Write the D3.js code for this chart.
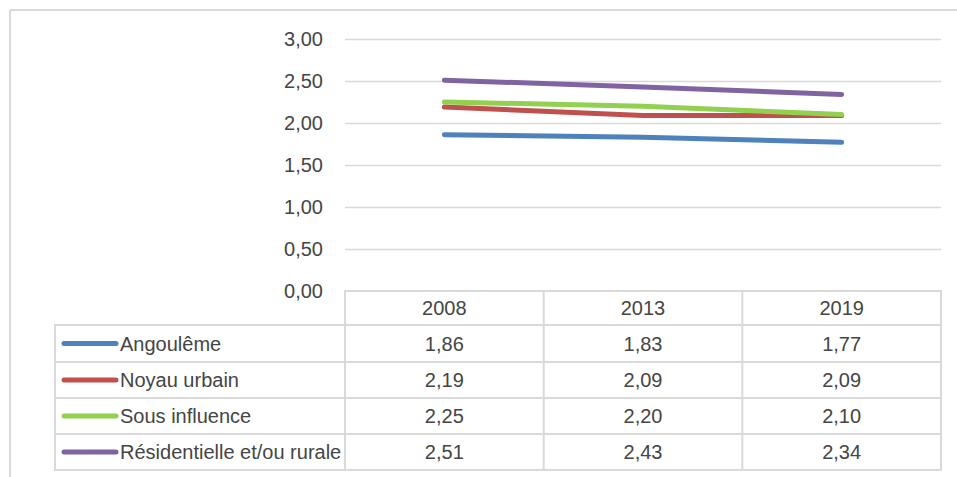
<!DOCTYPE html>
<html>
<head>
<meta charset="utf-8">
<script src="https://cdn.jsdelivr.net/npm/d3@7"></script>
<style>
  html, body { margin: 0; padding: 0; background: #fff; }
  svg { display: block; }
  text { font-family: "Liberation Sans", Arial, sans-serif; fill: #454545; }
</style>
</head>
<body>
<svg id="chart" width="957" height="477"></svg>
<script>
// Household size by area type, 2008–2019
const years = ["2008", "2013", "2019"];
const seriesNames = ["Angoulême", "Noyau urbain", "Sous influence", "Résidentielle et/ou rurale"];
const angouleme = [1.86, 1.83, 1.77];
const noyauUrbain = [2.19, 2.09, 2.09];
const sousInfluence = [2.25, 2.20, 2.10];
const residentielle = [2.51, 2.43, 2.34];
const yTicks = [0, 0.5, 1, 1.5, 2, 2.5, 3];
const colors = ["#4F81BD", "#C0504D", "#92D050", "#8064A2"];

const series = seriesNames.map((name, i) => ({
  name,
  values: [angouleme, noyauUrbain, sousInfluence, residentielle][i],
  color: colors[i]
}));

const svg = d3.select("#chart");
const fmt = v => d3.format(".2f")(v).replace(".", ",");
const fontSize = 20;

const plotLeft = 345, plotRight = 941, plotTop = 39, plotBottom = 291;
const x = d3.scaleBand().domain(years).range([plotLeft, plotRight]);
const y = d3.scaleLinear().domain([0, 3]).range([plotBottom, plotTop]);

// Chart area frame (top and left edges)
svg.append("line").attr("x1", 10).attr("x2", 957).attr("y1", 10).attr("y2", 10)
  .attr("stroke", "#d9d9d9").attr("stroke-width", 2);
svg.append("line").attr("x1", 10).attr("x2", 10).attr("y1", 10).attr("y2", 477)
  .attr("stroke", "#d9d9d9").attr("stroke-width", 2);

// Y axis: gridlines + labels
const yAxis = d3.axisLeft(y).tickValues(yTicks).tickFormat(fmt)
  .tickSize(-(plotRight - plotLeft)).tickPadding(22);
const gy = svg.append("g").attr("transform", `translate(${plotLeft},0)`).call(yAxis);
gy.select(".domain").remove();
gy.selectAll(".tick line").attr("stroke", "#d9d9d9").attr("stroke-width", 1.5);
gy.selectAll(".tick").filter(d => d === 0).select("line").remove();
gy.selectAll(".tick text").attr("font-size", fontSize).attr("fill", "#454545")
  .attr("font-family", "'Liberation Sans', Arial, sans-serif");

// Lines
const line = d3.line().x((d, i) => x(years[i]) + x.bandwidth() / 2).y(d => y(d));
svg.append("g").selectAll("path").data(series).join("path")
  .attr("d", d => line(d.values))
  .attr("fill", "none")
  .attr("stroke", d => d.color)
  .attr("stroke-width", 5)
  .attr("stroke-linecap", "round")
  .attr("stroke-linejoin", "round");

// Data table
const tableLeft = 55;
const headerTop = plotBottom, headerBottom = 325;
const rowEdges = [325, 362, 398, 434, 470];
const gridColor = "#d9d9d9";
const tbl = svg.append("g");

// header row borders
tbl.append("rect").attr("x", plotLeft).attr("y", headerTop)
  .attr("width", plotRight - plotLeft).attr("height", headerBottom - headerTop)
  .attr("fill", "none").attr("stroke", gridColor).attr("stroke-width", 2);
// body rows
tbl.selectAll("rect.row").data(series).join("rect").attr("class", "row")
  .attr("x", tableLeft).attr("y", (d, i) => rowEdges[i])
  .attr("width", plotRight - tableLeft).attr("height", (d, i) => rowEdges[i + 1] - rowEdges[i])
  .attr("fill", "none").attr("stroke", gridColor).attr("stroke-width", 2);
// column separators
tbl.selectAll("line.col").data(years.slice(1)).join("line").attr("class", "col")
  .attr("x1", d => x(d)).attr("x2", d => x(d))
  .attr("y1", headerTop).attr("y2", rowEdges[rowEdges.length - 1])
  .attr("stroke", gridColor).attr("stroke-width", 2);
tbl.append("line").attr("x1", plotLeft).attr("x2", plotLeft)
  .attr("y1", headerTop).attr("y2", rowEdges[rowEdges.length - 1])
  .attr("stroke", gridColor).attr("stroke-width", 2);

// header labels
tbl.selectAll("text.year").data(years).join("text").attr("class", "year")
  .attr("x", d => x(d) + x.bandwidth() / 2).attr("y", (headerTop + headerBottom) / 2)
  .attr("dy", "0.35em").attr("text-anchor", "middle").attr("font-size", fontSize)
  .text(d => d);

// legend keys + names + values
series.forEach((s, i) => {
  const cy = (rowEdges[i] + rowEdges[i + 1]) / 2;
  tbl.append("line").attr("x1", 64).attr("x2", 116).attr("y1", cy).attr("y2", cy)
    .attr("stroke", s.color).attr("stroke-width", 5).attr("stroke-linecap", "round");
  tbl.append("text").attr("x", 120).attr("y", cy).attr("dy", "0.35em")
    .attr("font-size", fontSize).attr("textLength", null).text(s.name);
  tbl.selectAll(null).data(s.values).join("text")
    .attr("x", (d, j) => x(years[j]) + x.bandwidth() / 2).attr("y", cy).attr("dy", "0.35em")
    .attr("text-anchor", "middle").attr("font-size", fontSize).text(d => fmt(d));
});
</script>
</body>
</html>
